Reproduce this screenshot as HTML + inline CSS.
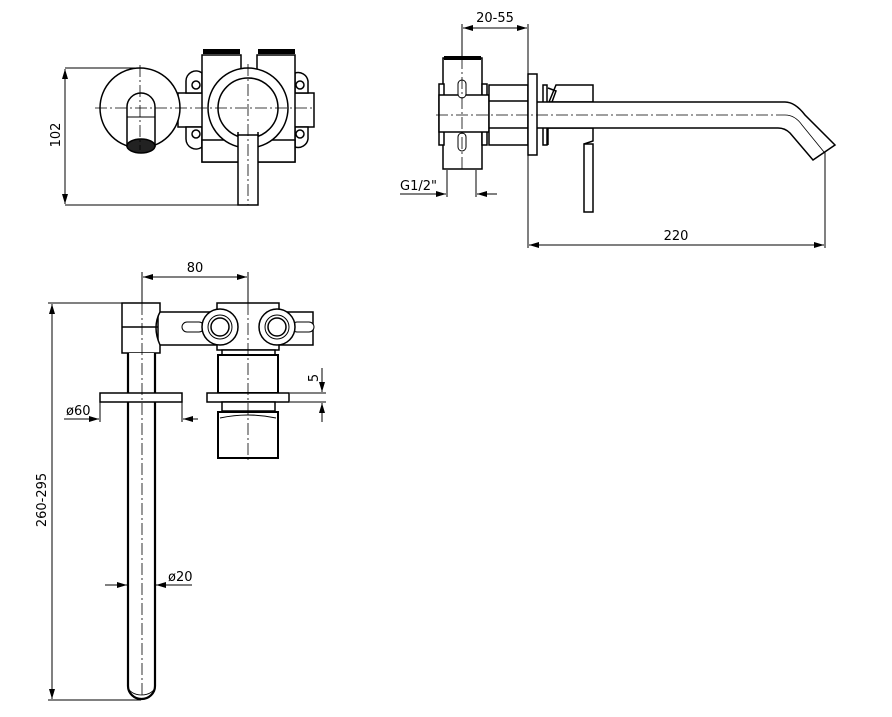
<!DOCTYPE html>
<html><head><meta charset="utf-8"><style>
html,body{margin:0;padding:0;background:#fff;}
svg{display:block}
text{font-family:"DejaVu Sans","Liberation Sans",sans-serif;font-size:13px;fill:#000}
</style></head><body>
<svg width="892" height="717" viewBox="0 0 892 717" xmlns="http://www.w3.org/2000/svg">
<defs>
<marker id="a" viewBox="0 0 10 6" refX="10" refY="3" markerWidth="10" markerHeight="6" orient="auto-start-reverse" markerUnits="userSpaceOnUse"><path d="M0,0 L10,3 L0,6 Z" fill="#000"/></marker>
</defs>
<g fill="none" stroke="#000" stroke-width="1.5">
<!-- ===== VIEW 1 ===== -->
<line x1="65" y1="68" x2="140" y2="68" stroke-width="1"/>
<line x1="65" y1="205" x2="240" y2="205" stroke-width="1"/>
<line x1="65" y1="69" x2="65" y2="204" stroke-width="1" marker-start="url(#a)" marker-end="url(#a)"/>
<!-- pipe -->
<rect x="178" y="93" width="136" height="34" fill="#fff"/>
<!-- lugs -->
<path d="M186,93 v-12 a10,10 0 0 1 16,-8 v20 z" fill="#fff"/>
<path d="M186,127 v12 a10,10 0 0 0 16,8 v-20 z" fill="#fff"/>
<path d="M308,93 v-12 a10,10 0 0 0 -13,-8 v20 z" fill="#fff"/>
<path d="M308,127 v12 a10,10 0 0 1 -13,8 v-20 z" fill="#fff"/>
<circle cx="196" cy="85" r="4"/><circle cx="196" cy="134" r="4"/>
<circle cx="300" cy="85" r="4"/><circle cx="300" cy="134" r="4"/>
<!-- towers -->
<path d="M202,55 h39 v107 h-39 z M257,55 h38 v107 h-38 z M241,145 h16 v17" fill="#fff"/>
<rect x="203" y="49" width="37" height="5" fill="#000" stroke-width="0"/>
<rect x="258" y="49" width="37" height="5" fill="#000" stroke-width="0"/>
<rect x="202" y="140" width="93" height="22" fill="#fff"/>
<!-- big circle -->
<circle cx="248" cy="108" r="40" fill="#fff"/>
<circle cx="248" cy="108" r="30" fill="#fff"/>
<rect x="238" y="135" width="20" height="70" fill="#fff"/>
<path d="M238,136 v-4 M258,136 v-4" />
<!-- left circle -->
<circle cx="140" cy="108" r="40" fill="#fff"/>
<path d="M127,147 v-40 a14,14 0 0 1 28,0 v40" fill="#fff"/>
<line x1="127" y1="117" x2="155" y2="117" stroke-width="1"/>
<ellipse cx="141" cy="146" rx="14" ry="7" fill="#222"/>
<!-- center lines -->
<g stroke-width="0.8" stroke-dasharray="12,3,2,3">
<line x1="95" y1="108" x2="315" y2="108"/>
<line x1="140" y1="65" x2="140" y2="150"/>
<line x1="248" y1="64" x2="248" y2="205"/>
</g>

<!-- ===== VIEW 2 ===== -->
<line x1="462" y1="24" x2="462" y2="57" stroke-width="1"/>
<line x1="528" y1="24" x2="528" y2="248" stroke-width="1"/>
<line x1="463" y1="28" x2="527" y2="28" stroke-width="1" marker-start="url(#a)" marker-end="url(#a)"/>
<line x1="825" y1="152" x2="825" y2="248" stroke-width="1"/>
<line x1="529" y1="245" x2="824" y2="245" stroke-width="1" marker-start="url(#a)" marker-end="url(#a)"/>
<!-- left block -->
<rect x="443" y="58" width="39" height="111" fill="#fff"/>
<rect x="444" y="56" width="37" height="4" fill="#000" stroke-width="0"/>
<rect x="439" y="84" width="5" height="61" fill="#fff"/>
<rect x="482" y="84" width="5" height="61" fill="#fff"/>
<rect x="439" y="95" width="50" height="37" fill="#fff"/>
<rect x="458" y="80" width="8" height="18" rx="4" fill="#fff" stroke-width="1"/>
<rect x="458" y="133" width="8" height="18" rx="4" fill="#fff" stroke-width="1"/>
<!-- nut -->
<rect x="489" y="85" width="39" height="60" fill="#fff"/>
<line x1="489" y1="101" x2="528" y2="101"/><line x1="489" y1="128" x2="528" y2="128"/>
<!-- body -->
<path d="M543,85 h4 v60 h-4 z" fill="#fff"/>
<path d="M556,85 h37 v17 h-44 z" fill="#fff"/>
<path d="M548,88 l8,3 l-4,11" />
<path d="M548,128 h45 v13 l-9,3 M548,128 v17" fill="#fff"/>
<rect x="584" y="144" width="9" height="68" fill="#fff"/>
<!-- spout -->
<path d="M537,102 H785 Q795,102 805,115 L835,145 L813,160 L790,133 Q785,128 778,128 H537" fill="#fff"/>
<path d="M785,115 Q795,115 802,125 L824,152" stroke-width="0.8"/>
<!-- flange -->
<rect x="528" y="74" width="9" height="81" fill="#fff"/>
<!-- centerlines -->
<g stroke-width="0.8" stroke-dasharray="12,3,2,3">
<line x1="436" y1="115" x2="785" y2="115"/>
<line x1="462" y1="57" x2="462" y2="172"/>
</g>
<!-- G1/2 -->
<line x1="447" y1="170" x2="447" y2="197" stroke-width="1"/>
<line x1="476" y1="170" x2="476" y2="197" stroke-width="1"/>
<line x1="400" y1="194" x2="446" y2="194" stroke-width="1" marker-end="url(#a)"/>
<line x1="497" y1="194" x2="477" y2="194" stroke-width="1" marker-end="url(#a)"/>

<!-- ===== VIEW 3 ===== -->
<line x1="142" y1="272" x2="142" y2="303" stroke-width="1"/>
<line x1="248" y1="272" x2="248" y2="303" stroke-width="1"/>
<line x1="143" y1="277" x2="247" y2="277" stroke-width="1" marker-start="url(#a)" marker-end="url(#a)"/>
<line x1="48" y1="303" x2="122" y2="303" stroke-width="1"/>
<line x1="48" y1="700" x2="141" y2="700" stroke-width="1"/>
<line x1="52" y1="304" x2="52" y2="699" stroke-width="1" marker-start="url(#a)" marker-end="url(#a)"/>
<!-- arm -->
<rect x="158" y="312" width="155" height="33" fill="#fff"/>
<rect x="182" y="322" width="22" height="10" rx="5" fill="#fff" stroke-width="1"/>
<rect x="292" y="322" width="22" height="10" rx="5" fill="#fff" stroke-width="1"/>
<!-- elbow -->
<path d="M122,303 h38 v9 q-8,15 0,33 v8 h-38 z" fill="#fff"/>
<line x1="122" y1="327" x2="158" y2="327"/>
<!-- pipe -->
<path d="M128,353 V686 a13.5,13 0 0 0 27,0 V353" fill="#fff" stroke-width="2.2"/>
<path d="M128,686 a13.5,9 0 0 0 27,0" stroke-width="0.8"/>
<rect x="100" y="393" width="82" height="9" fill="#fff"/>
<!-- valve -->
<rect x="217" y="303" width="62" height="47" fill="#fff"/>
<circle cx="220" cy="327" r="18" fill="#fff"/><circle cx="220" cy="327" r="12" fill="#fff" stroke-width="1"/><circle cx="220" cy="327" r="9" fill="#fff"/>
<circle cx="277" cy="327" r="18" fill="#fff"/><circle cx="277" cy="327" r="12" fill="#fff" stroke-width="1"/><circle cx="277" cy="327" r="9" fill="#fff"/>
<rect x="222" y="350" width="53" height="5" fill="#fff"/>
<rect x="218" y="355" width="60" height="38" fill="#fff" stroke-width="2"/>
<rect x="207" y="393" width="82" height="9" fill="#fff"/>
<rect x="222" y="402" width="53" height="9" fill="#fff"/>
<path d="M218,412 h60 v46 h-60 z" fill="#fff" stroke-width="2"/>
<path d="M220,418 q28,-6 56,0" stroke-width="1"/>
<!-- centerlines -->
<g stroke-width="0.8" stroke-dasharray="12,3,2,3">
<line x1="142" y1="303" x2="142" y2="700"/>
<line x1="248" y1="303" x2="248" y2="460"/>
</g>
<!-- 5 -->
<line x1="290" y1="393" x2="326" y2="393" stroke-width="1"/>
<line x1="290" y1="402" x2="326" y2="402" stroke-width="1"/>
<line x1="322" y1="368" x2="322" y2="392" stroke-width="1" marker-end="url(#a)"/>
<line x1="322" y1="422" x2="322" y2="403" stroke-width="1" marker-end="url(#a)"/>
<!-- Ø60 -->
<line x1="100" y1="402" x2="100" y2="422" stroke-width="1"/>
<line x1="182" y1="402" x2="182" y2="422" stroke-width="1"/>
<line x1="64" y1="419" x2="99" y2="419" stroke-width="1" marker-end="url(#a)"/>
<line x1="198" y1="419" x2="183" y2="419" stroke-width="1" marker-end="url(#a)"/>
<!-- Ø20 -->
<line x1="105" y1="585" x2="127" y2="585" stroke-width="1" marker-end="url(#a)"/>
<line x1="192" y1="585" x2="156" y2="585" stroke-width="1" marker-end="url(#a)"/>
</g>
<text x="60" y="135" text-anchor="middle" transform="rotate(-90 60 135)">102</text>
<text x="495" y="22" text-anchor="middle">20-55</text>
<text x="676" y="240" text-anchor="middle">220</text>
<text x="400" y="190">G1/2"</text>
<text x="195" y="272" text-anchor="middle">80</text>
<text x="46" y="500" text-anchor="middle" transform="rotate(-90 46 500)">260-295</text>
<text x="318" y="378" text-anchor="middle" transform="rotate(-90 318 378)">5</text>
<text x="66" y="415">ø60</text>
<text x="168" y="581">ø20</text>
</svg>
</body></html>
